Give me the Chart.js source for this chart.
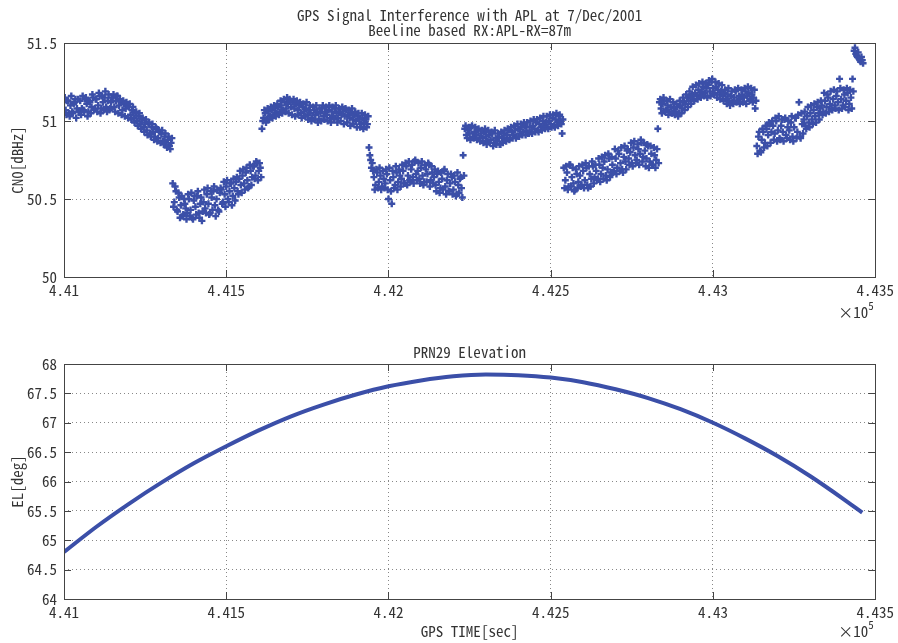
<!DOCTYPE html>
<html>
<head>
<meta charset="utf-8">
<script src="https://cdn.jsdelivr.net/npm/chart.js@4"></script>
<style>
  html, body { margin: 0; padding: 0; background: #fff; }
  #wrap { position: relative; width: 898px; height: 643px; }
  canvas { position: absolute; left: 0; }
  #top { top: 0; }
  #bot { top: 320px; }
</style>
</head>
<body>
<div id="wrap">
  <canvas id="top" width="898" height="320"></canvas>
  <canvas id="bot" width="898" height="323"></canvas>
</div>
<script>
// ---- data ----
var sampleStep = 5; // sec between CN0 samples of one pass
var cn0SegStart = [441000, 441335, 441610, 441940, 442235, 442540, 442835, 443135, 443435];
var cn0SegStartB = [441002.5, 441337.5, 441612.5, 441942.5, 442237.5, 442542.5, 442837.5, 443137.5, 443437.5];

var cn0Seg1 = [51.12, 51.07, 51.13, 51.05, 51.10, 51.06, 51.11, 51.14, 51.08, 51.06,
  51.13, 51.08, 51.07, 51.14, 51.11, 51.06, 51.12, 51.09, 51.15, 51.08,
  51.14, 51.10, 51.16, 51.08, 51.12, 51.15, 51.09, 51.13, 51.07, 51.12,
  51.15, 51.09, 51.13, 51.16, 51.10, 51.12, 51.07, 51.11, 51.08, 51.10,
  51.09, 51.04, 51.07, 51.02, 51.05, 51.00, 51.03, 50.98, 51.01, 50.96,
  50.99, 50.94, 50.98, 50.92, 50.96, 50.93, 50.90, 50.95, 50.89, 50.93,
  50.92, 50.87, 50.90, 50.85, 50.88, 50.84, 50.86];
var cn0Seg2 = [50.60, 50.48, 50.55, 50.42, 50.51, 50.46, 50.39, 50.50, 50.44, 50.41,
  50.50, 50.43, 50.38, 50.49, 50.45, 50.52, 50.41, 50.47, 50.36, 50.48,
  50.44, 50.53, 50.47, 50.41, 50.51, 50.55, 50.46, 50.50, 50.43, 50.54,
  50.56, 50.48, 50.53, 50.58, 50.50, 50.55, 50.60, 50.52, 50.57, 50.61,
  50.55, 50.63, 50.59, 50.65, 50.60, 50.67, 50.62, 50.58, 50.68, 50.64,
  50.71, 50.65, 50.73, 50.68, 50.70];
var cn0Seg3 = [50.95, 51.02, 51.05, 51.01, 51.06, 51.03, 51.07, 51.04, 51.08, 51.05,
  51.09, 51.06, 51.10, 51.07, 51.12, 51.08, 51.11, 51.14, 51.09, 51.12,
  51.08, 51.11, 51.07, 51.10, 51.05, 51.09, 51.06, 51.08, 51.04, 51.07,
  51.05, 51.02, 51.07, 51.04, 51.06, 51.01, 51.05, 51.08, 51.03, 51.06,
  51.04, 51.07, 51.02, 51.06, 51.03, 51.08, 51.05, 51.02, 51.06, 51.04,
  51.06, 51.03, 51.07, 51.04, 51.02, 51.05, 51.01, 51.04, 51.00, 51.03,
  51.01, 50.98, 51.02, 50.99, 51.01, 50.98];
var cn0Seg4 = [50.83, 50.75, 50.73, 50.64, 50.59, 50.67, 50.61, 50.65, 50.58, 50.63,
  50.60, 50.66, 50.50, 50.62, 50.47, 50.64, 50.59, 50.67, 50.61, 50.65,
  50.63, 50.68, 50.60, 50.71, 50.65, 50.62, 50.69, 50.64, 50.74, 50.66,
  50.68, 50.63, 50.70, 50.65, 50.61, 50.69, 50.66, 50.72, 50.62, 50.67,
  50.64, 50.59, 50.66, 50.61, 50.57, 50.63, 50.68, 50.58, 50.62, 50.55,
  50.60, 50.64, 50.56, 50.61, 50.53, 50.59, 50.63, 50.57, 50.78];
var cn0Seg5 = [50.95, 50.91, 50.94, 50.92, 50.96, 50.90, 50.93, 50.91, 50.94, 50.89,
  50.92, 50.89, 50.93, 50.90, 50.87, 50.91, 50.88, 50.92, 50.86, 50.89,
  50.87, 50.90, 50.85, 50.89, 50.92, 50.88, 50.91, 50.94, 50.89, 50.93,
  50.91, 50.94, 50.90, 50.95, 50.92, 50.96, 50.93, 50.97, 50.94, 50.92,
  50.96, 50.93, 50.97, 50.95, 50.99, 50.94, 50.98, 50.96, 51.00, 50.97,
  50.99, 50.96, 51.00, 50.98, 51.02, 50.97, 51.01, 50.99, 51.03, 51.00,
  50.92];
var cn0Seg6 = [50.70, 50.62, 50.67, 50.58, 50.72, 50.64, 50.60, 50.56, 50.66, 50.61,
  50.65, 50.59, 50.68, 50.62, 50.70, 50.57, 50.66, 50.63, 50.71, 50.64,
  50.68, 50.63, 50.72, 50.66, 50.70, 50.74, 50.65, 50.69, 50.76, 50.67,
  50.72, 50.68, 50.76, 50.70, 50.79, 50.73, 50.69, 50.77, 50.74, 50.81,
  50.76, 50.80, 50.73, 50.83, 50.78, 50.75, 50.82, 50.79, 50.86, 50.77,
  50.81, 50.76, 50.84, 50.74, 50.79, 50.72, 50.78, 50.75, 50.95];
var cn0Seg7 = [51.12, 51.08, 51.11, 51.13, 51.07, 51.10, 51.06, 51.09, 51.05, 51.08,
  51.06, 51.09, 51.05, 51.10, 51.08, 51.12, 51.11, 51.15, 51.13, 51.16,
  51.17, 51.14, 51.18, 51.16, 51.20, 51.17, 51.19, 51.22, 51.18, 51.21,
  51.23, 51.19, 51.25, 51.21, 51.18, 51.22, 51.20, 51.17, 51.19, 51.16,
  51.18, 51.14, 51.17, 51.13, 51.16, 51.12, 51.15, 51.19, 51.13, 51.16,
  51.14, 51.17, 51.15, 51.19, 51.16, 51.18, 51.14, 51.17, 51.15, 51.08];
var cn0Seg8 = [50.84, 50.90, 50.81, 50.88, 50.93, 50.86, 50.95, 50.91, 50.98, 50.93,
  50.97, 50.92, 51.00, 50.94, 50.89, 50.97, 50.93, 51.01, 50.91, 50.96,
  50.94, 50.99, 50.90, 50.96, 51.02, 50.93, 51.12, 50.89, 50.98, 51.01,
  50.97, 51.03, 50.99, 51.05, 51.01, 51.07, 51.03, 51.09, 51.05, 51.08,
  51.10, 51.06, 51.13, 51.09, 51.15, 51.11, 51.08, 51.14, 51.10, 51.16,
  51.12, 51.27, 51.14, 51.10, 51.17, 51.13, 51.18, 51.11, 51.15, 51.27];
var cn0Seg9 = [51.45, 51.43, 51.41, 51.40, 51.38, 51.39];

// second pass of readings, in between the first
var cn0Seg1b = [51.15, 51.04, 51.13, 51.03, 51.16, 51.05, 51.12, 51.02, 51.14, 51.06,
  51.04, 51.16, 51.06, 51.15, 51.03, 51.13, 51.05, 51.17, 51.07, 51.14,
  51.06, 51.18, 51.05, 51.16, 51.07, 51.19, 51.06, 51.17, 51.08, 51.15,
  51.17, 51.06, 51.16, 51.05, 51.14, 51.04, 51.13, 51.03, 51.12, 51.02,
  51.11, 51.01, 51.09, 50.99, 51.06, 50.97, 51.05, 50.95, 51.02, 50.93,
  51.01, 50.91, 50.99, 50.90, 50.98, 50.88, 50.96, 50.87, 50.94, 50.86,
  50.94, 50.85, 50.92, 50.83, 50.90, 50.82, 50.89];
var cn0Seg2b = [50.45, 50.58, 50.43, 50.54, 50.38, 50.52, 50.40, 50.47, 50.37, 50.53,
  50.39, 50.54, 50.37, 50.52, 50.40, 50.55, 50.38, 50.51, 50.42, 50.56,
  50.41, 50.57, 50.40, 50.55, 50.43, 50.58, 50.39, 50.56, 50.42, 50.57,
  50.47, 50.61, 50.45, 50.62, 50.48, 50.60, 50.46, 50.63, 50.49, 50.64,
  50.53, 50.68, 50.54, 50.69, 50.56, 50.70, 50.57, 50.72, 50.59, 50.71,
  50.63, 50.74, 50.62, 50.73, 50.64];
var cn0Seg3b = [51.00, 51.07, 50.99, 51.08, 51.01, 51.09, 51.02, 51.10, 51.03, 51.11,
  51.04, 51.13, 51.05, 51.14, 51.06, 51.15, 51.05, 51.13, 51.04, 51.14,
  51.03, 51.13, 51.04, 51.12, 51.02, 51.11, 51.03, 51.12, 51.01, 51.10,
  51.00, 51.09, 51.01, 51.10, 50.99, 51.08, 51.00, 51.10, 51.01, 51.09,
  51.00, 51.10, 50.99, 51.09, 51.01, 51.10, 50.99, 51.08, 51.00, 51.09,
  50.98, 51.08, 50.99, 51.07, 50.97, 51.08, 50.98, 51.06, 50.96, 51.05,
  50.96, 51.05, 50.95, 51.04, 50.96, 51.03];
var cn0Seg4b = [50.78, 50.70, 50.68, 50.56, 50.69, 50.57, 50.70, 50.56, 50.68, 50.57,
  50.69, 50.56, 50.70, 50.55, 50.68, 50.57, 50.71, 50.56, 50.69, 50.58,
  50.72, 50.60, 50.73, 50.59, 50.74, 50.61, 50.72, 50.60, 50.75, 50.62,
  50.73, 50.60, 50.74, 50.59, 50.72, 50.61, 50.73, 50.58, 50.71, 50.60,
  50.69, 50.55, 50.68, 50.54, 50.67, 50.56, 50.69, 50.53, 50.66, 50.55,
  50.66, 50.53, 50.65, 50.52, 50.67, 50.54, 50.64, 50.51, 50.65];
var cn0Seg5b = [50.97, 50.89, 50.96, 50.88, 50.97, 50.89, 50.96, 50.88, 50.95, 50.87,
  50.94, 50.86, 50.95, 50.85, 50.94, 50.86, 50.93, 50.84, 50.94, 50.85,
  50.92, 50.85, 50.93, 50.86, 50.94, 50.87, 50.95, 50.88, 50.96, 50.89,
  50.97, 50.89, 50.98, 50.90, 50.98, 50.91, 50.99, 50.91, 50.99, 50.92,
  51.00, 50.92, 51.01, 50.93, 51.01, 50.93, 51.02, 50.94, 51.03, 50.95,
  51.03, 50.95, 51.04, 50.96, 51.04, 50.96, 51.05, 50.97, 51.04, 50.98,
  51.01];
var cn0Seg6b = [50.57, 50.71, 50.56, 50.72, 50.58, 50.70, 50.55, 50.69, 50.57, 50.71,
  50.58, 50.72, 50.57, 50.73, 50.59, 50.71, 50.58, 50.74, 50.60, 50.72,
  50.62, 50.76, 50.61, 50.77, 50.63, 50.78, 50.62, 50.79, 50.64, 50.77,
  50.67, 50.82, 50.66, 50.81, 50.68, 50.83, 50.67, 50.84, 50.69, 50.82,
  50.72, 50.86, 50.71, 50.87, 50.73, 50.85, 50.72, 50.88, 50.74, 50.86,
  50.71, 50.85, 50.70, 50.84, 50.72, 50.83, 50.70, 50.82, 50.73];
var cn0Seg7b = [51.14, 51.05, 51.15, 51.06, 51.13, 51.04, 51.14, 51.05, 51.12, 51.04,
  51.11, 51.03, 51.13, 51.05, 51.15, 51.07, 51.17, 51.09, 51.19, 51.11,
  51.22, 51.13, 51.23, 51.14, 51.24, 51.15, 51.25, 51.16, 51.24, 51.15,
  51.26, 51.16, 51.27, 51.17, 51.25, 51.15, 51.24, 51.14, 51.23, 51.13,
  51.20, 51.11, 51.21, 51.10, 51.19, 51.11, 51.20, 51.12, 51.21, 51.11,
  51.20, 51.12, 51.21, 51.11, 51.22, 51.13, 51.21, 51.12, 51.20, 51.13];
var cn0Seg8b = [50.79, 50.93, 50.80, 50.95, 50.83, 50.97, 50.84, 50.99, 50.86, 51.00,
  50.88, 51.02, 50.87, 51.03, 50.88, 51.01, 50.87, 51.02, 50.89, 51.00,
  50.88, 51.03, 50.87, 51.02, 50.89, 51.04, 50.90, 51.05, 50.92, 51.06,
  50.95, 51.09, 50.96, 51.10, 50.98, 51.11, 50.99, 51.12, 51.01, 51.13,
  51.04, 51.18, 51.05, 51.17, 51.06, 51.19, 51.07, 51.20, 51.08, 51.19,
  51.07, 51.21, 51.08, 51.20, 51.09, 51.21, 51.07, 51.20, 51.08, 51.19];
var cn0Seg9b = [51.47, 51.42, 51.44, 51.39, 51.41, 51.37];

var elTime = [441000, 441100, 441200, 441300, 441400, 441500, 441600, 441700, 441800,
  441900, 442000, 442100, 442200, 442300, 442400, 442500, 442600, 442700, 442800,
  442900, 443000, 443100, 443200, 443300, 443400, 443460];
var elDeg = [64.80, 65.23, 65.62, 65.98, 66.31, 66.60, 66.87, 67.11, 67.31,
  67.48, 67.62, 67.72, 67.79, 67.82, 67.81, 67.77, 67.69, 67.57, 67.42,
  67.23, 67.00, 66.73, 66.43, 66.09, 65.71, 65.47];

var xMin = 441000, xMax = 443500, xStep = 500;
var cn0Min = 50, cn0Max = 51.5, cn0Step = 0.5;
var elMin = 64, elMax = 68, elStep = 0.5;

// ---- build datasets ----
var cn0Segs = [cn0Seg1, cn0Seg2, cn0Seg3, cn0Seg4, cn0Seg5, cn0Seg6, cn0Seg7, cn0Seg8, cn0Seg9];
var cn0SegsB = [cn0Seg1b, cn0Seg2b, cn0Seg3b, cn0Seg4b, cn0Seg5b, cn0Seg6b, cn0Seg7b, cn0Seg8b, cn0Seg9b];
var cn0Points = [];
function addPass(segs, starts){
  segs.forEach(function(seg, k){
    seg.forEach(function(v, i){
      cn0Points.push({x: starts[k] + i * sampleStep, y: v});
    });
  });
}
addPass(cn0Segs, cn0SegStart);
addPass(cn0SegsB, cn0SegStartB);
var elPoints = elTime.map(function(t, i){ return {x: t, y: elDeg[i]}; });

var blue = '#3b4fa8';
var textCol = '#333';
var font = '"Noto Sans Mono CJK JP", "Noto Sans CJK JP", monospace';

function xLabel(v){
  return (v / 1e5).toFixed(3).replace(/0+$/, '').replace(/\.$/, '');
}
function yLabel(v){
  return String(Math.round(v * 10) / 10);
}

// box, inward ticks and texts, matlab style
var frame = {
  id: 'frame',
  afterDraw: function(chart, args, opts){
    var c = chart.ctx, a = chart.chartArea, xs = chart.scales.x, ys = chart.scales.y;
    c.save();
    c.strokeStyle = '#444';
    c.lineWidth = 1;
    c.strokeRect(Math.round(a.left) + 0.5, Math.round(a.top) + 0.5,
      Math.round(a.right - a.left), Math.round(a.bottom - a.top));
    c.beginPath();
    xs.ticks.forEach(function(t){
      var px = Math.round(xs.getPixelForValue(t.value)) + 0.5;
      c.moveTo(px, a.bottom); c.lineTo(px, a.bottom - 7);
      c.moveTo(px, a.top); c.lineTo(px, a.top + 7);
    });
    ys.ticks.forEach(function(t){
      var py = Math.round(ys.getPixelForValue(t.value)) + 0.5;
      c.moveTo(a.left, py); c.lineTo(a.left + 7, py);
      c.moveTo(a.right, py); c.lineTo(a.right - 7, py);
    });
    c.stroke();

    c.fillStyle = textCol;
    c.textBaseline = 'middle';
    c.textAlign = 'center';
    c.font = '15px ' + font;
    var cx = (a.left + a.right) / 2;
    (opts.titles || []).forEach(function(t){ c.fillText(t.text, cx, t.y); });
    if (opts.xTitle) c.fillText(opts.xTitle.text, cx, opts.xTitle.y);
    // y title
    c.save();
    c.translate(17, (a.top + a.bottom) / 2);
    c.rotate(-Math.PI / 2);
    c.fillText(opts.yTitle, 0, 0);
    c.restore();
    // x10^5
    c.textAlign = 'left';
    c.textBaseline = 'alphabetic';
    c.font = '15px ' + font;
    c.fillText('\u00d710', a.right - 37, opts.expY);
    c.font = '11px ' + font;
    c.fillText('5', a.right - 7, opts.expY - 8);
    c.restore();
  }
};

function baseOptions(yMin, yMax, yStep, plug){
  return {
    responsive: false,
    animation: false,
    devicePixelRatio: 1,
    layout: {padding: {left: 0, right: 21, top: plug.padTop, bottom: plug.padBottom}},
    plugins: {legend: {display: false}, tooltip: {enabled: false}, frame: plug},
    scales: {
      x: {
        type: 'linear', min: xMin, max: xMax,
        afterFit: function(s){ s.height = 30; },
        afterBuildTicks: function(s){
          var t = [];
          for (var v = xMin; v <= xMax; v += xStep) t.push({value: v});
          s.ticks = t;
        },
        ticks: {
          callback: xLabel, color: textCol, padding: 4, maxRotation: 0,
          autoSkip: false, font: {family: font, size: 15}
        },
        grid: {color: '#888', lineWidth: 1, drawTicks: false},
        border: {display: false, dash: [1, 3]}
      },
      y: {
        type: 'linear', min: yMin, max: yMax,
        afterFit: function(s){ s.width = 64; },
        ticks: {
          stepSize: yStep, callback: yLabel, color: textCol, padding: 7, autoSkip: false,
          font: {family: font, size: 15}
        },
        grid: {color: '#888', lineWidth: 1, drawTicks: false},
        border: {display: false, dash: [1, 3]}
      }
    }
  };
}

new Chart(document.getElementById('top'), {
  type: 'scatter',
  data: {
    datasets: [{
      label: 'CN0',
      data: cn0Points,
      backgroundColor: blue,
      borderColor: blue,
      borderWidth: 2.4,
      pointRadius: 3.5,
      pointStyle: 'cross'
    }]
  },
  options: baseOptions(cn0Min, cn0Max, cn0Step, {
    padTop: 43, padBottom: 13,
    titles: [{text: 'GPS Signal Interference with APL at 7/Dec/2001', y: 15},
             {text: 'Beeline based RX:APL-RX=87m', y: 30}],
    yTitle: 'CN0[dBHz]',
    expY: 318
  }),
  plugins: [frame]
});

new Chart(document.getElementById('bot'), {
  type: 'line',
  data: {
    datasets: [{
      label: 'EL',
      data: elPoints,
      borderColor: blue,
      borderWidth: 4,
      pointRadius: 0,
      fill: false,
      cubicInterpolationMode: 'monotone'
    }]
  },
  options: baseOptions(elMin, elMax, elStep, {
    padTop: 44, padBottom: 14,
    titles: [{text: 'PRN29 Elevation', y: 32}],
    xTitle: {text: 'GPS TIME[sec]', y: 311},
    yTitle: 'EL[deg]',
    expY: 317
  }),
  plugins: [frame]
});
</script>
</body>
</html>
